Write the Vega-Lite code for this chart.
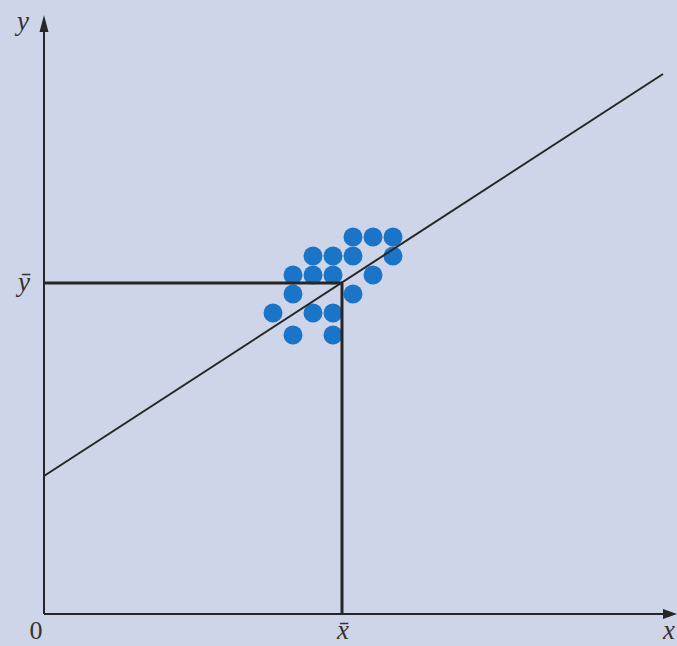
{
  "$schema": "https://vega.github.io/schema/vega-lite/v6.json",
  "width": 677,
  "height": 646,
  "padding": 0,
  "autosize": "none",
  "background": "#cfd5e8",
  "config": {"view": {"stroke": null}},
  "datasets": {
    "points": [
      {"x": 15.45, "y": 18.85}, {"x": 16.45, "y": 18.85}, {"x": 17.45, "y": 18.85},
      {"x": 13.45, "y": 17.9}, {"x": 14.45, "y": 17.9}, {"x": 15.45, "y": 17.9}, {"x": 17.45, "y": 17.9},
      {"x": 12.45, "y": 16.95}, {"x": 13.45, "y": 16.95}, {"x": 14.45, "y": 16.95}, {"x": 16.45, "y": 16.95},
      {"x": 12.45, "y": 16.0}, {"x": 15.45, "y": 16.0},
      {"x": 11.45, "y": 15.05}, {"x": 13.45, "y": 15.05}, {"x": 14.45, "y": 15.05},
      {"x": 12.45, "y": 13.95}, {"x": 14.45, "y": 13.95}
    ],
    "segments": [
      {"part": "x axis", "x": 0, "y": 0, "x2": 31.0, "y2": 0, "w": 2},
      {"part": "y axis", "x": 0, "y": 0, "x2": 0, "y2": 29.3, "w": 2},
      {"part": "fit", "x": 0, "y": 6.9, "x2": 30.95, "y2": 27.0, "w": 2},
      {"part": "mean y", "x": 0, "y": 16.55, "x2": 14.9, "y2": 16.55, "w": 3},
      {"part": "mean x", "x": 14.9, "y": 0, "x2": 14.9, "y2": 16.55, "w": 3}
    ],
    "variableLabels": [
      {"text": "y", "x": -1.05, "y": 29.2},
      {"text": "ȳ", "x": -1.0, "y": 16.15},
      {"text": "x̄", "x": 14.95, "y": -1.25},
      {"text": "x", "x": 31.25, "y": -1.25}
    ],
    "originLabel": [
      {"text": "0", "x": -0.4, "y": -1.25}
    ]
  },
  "encoding": {
    "x": {"field": "x", "type": "quantitative", "axis": null,
          "scale": {"domain": [-2.2, 31.65], "nice": false, "zero": false}},
    "y": {"field": "y", "type": "quantitative", "axis": null,
          "scale": {"domain": [-1.6, 30.7], "nice": false, "zero": false}}
  },
  "layer": [
    {
      "data": {"name": "points"},
      "mark": {"type": "circle", "size": 360, "color": "#1a74c8", "opacity": 1}
    },
    {
      "data": {"name": "segments"},
      "mark": {"type": "rule", "color": "#262626"},
      "encoding": {
        "x2": {"field": "x2"},
        "y2": {"field": "y2"},
        "strokeWidth": {"field": "w", "type": "quantitative", "scale": null}
      }
    },
    {
      "data": {"values": [{"x": 0, "y": 29.525}]},
      "mark": {"type": "point", "shape": "M0,-1L0.53,1L-0.53,1Z", "size": 289,
               "filled": true, "color": "#262626", "opacity": 1}
    },
    {
      "data": {"values": [{"x": 31.3, "y": 0}]},
      "mark": {"type": "point", "shape": "M1,0L-1,-0.7L-1,0.7Z", "size": 196,
               "filled": true, "color": "#262626", "opacity": 1}
    },
    {
      "data": {"name": "variableLabels"},
      "mark": {"type": "text", "font": "Liberation Serif", "fontSize": 27, "fontStyle": "italic",
               "color": "#333333", "align": "center", "baseline": "alphabetic"},
      "encoding": {"text": {"field": "text"}}
    },
    {
      "data": {"name": "originLabel"},
      "mark": {"type": "text", "font": "Liberation Serif", "fontSize": 26,
               "color": "#333333", "align": "center", "baseline": "alphabetic"},
      "encoding": {"text": {"field": "text"}}
    }
  ]
}
